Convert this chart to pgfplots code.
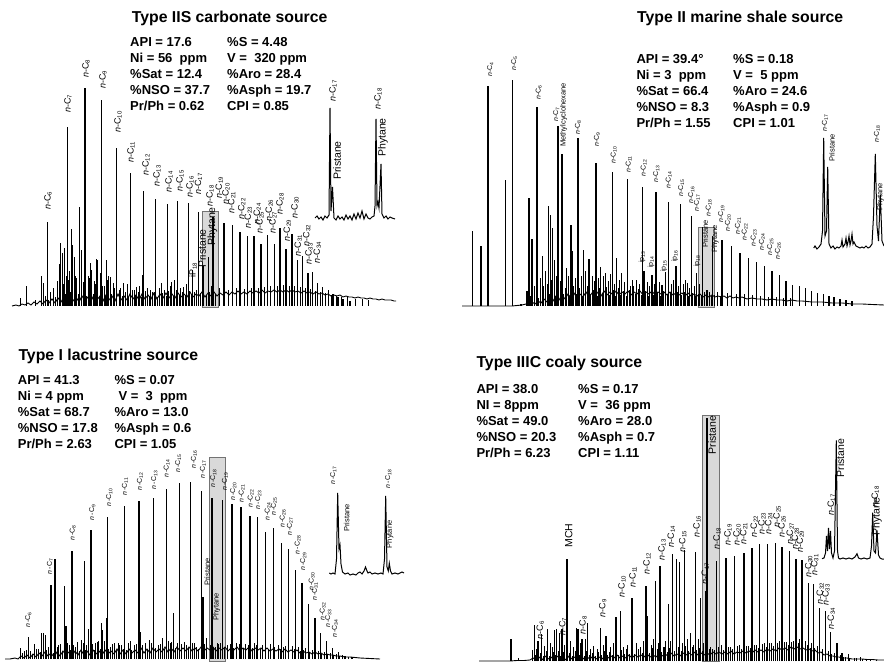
\documentclass[border=0pt]{standalone}
\usepackage{fontspec}
\setmainfont{Liberation Sans}
\usepackage{pgfplots}
\pgfplotsset{compat=1.18}
\newcommand{\nc}[1]{\textit{n}-C\textsubscript{#1}}
\newcommand{\ncc}[1]{\textit{n}\,-C\textsubscript{#1}}
\newcommand{\lbl}[4][labA]{\node[#1] at (axis cs:#2,#3) {#4};}
\tikzset{
 labbase/.style={rotate=90, anchor=west, inner sep=0pt, text=black},
 labA/.style={labbase, font=\fontsize{9}{9}\selectfont},
 labB/.style={labbase, font=\fontsize{7}{7}\selectfont},
 labC/.style={labbase, font=\fontsize{7}{7}\selectfont},
 labD/.style={labbase, font=\fontsize{9}{9}\selectfont},
 nameA/.style={labbase, font=\fontsize{10.5}{10.5}\selectfont},
 nameB/.style={labbase, font=\fontsize{7.5}{7.5}\selectfont},
 stat/.style={anchor=base west, inner sep=0pt, font=\bfseries\fontsize{13}{13}\selectfont},
 ttl/.style={anchor=base west, inner sep=0pt, font=\bfseries\fontsize{15.8}{16}\selectfont},
}
\pgfplotsset{
 chrom/.style={hide axis, x=1pt, y=1pt, clip=false, enlargelimits=false, xmin=0, xmax=442, anchor=south west},
 mainpk/.style={ycomb, black, line width=1.5pt, mark=none},
 minorpk/.style={ycomb, black, line width=0.8pt, mark=none},
 noise/.style={black, line width=0.9pt, mark=none},
 trace/.style={black, line width=1pt, mark=none},
 gbox/.style={fill=black!15, draw=black!55, line width=0.8pt, mark=none},
}
\begin{document}
\begin{tikzpicture}
\useasboundingbox (0,0) rectangle (884pt,662pt);
% ================= Panel A =================
\begin{axis}[chrom, at={(0pt,331pt)}, ymin=-25, ymax=306]
\addplot[gbox] coordinates {(202,-1) (218,-1) (218,95) (202,95)} -- cycle;
\addplot[noise] coordinates {(12,0) (16,1) (19,0) (22,2) (25,1) (28,3) (31,1) (34,4) (37,2) (40,5) (43,2) (46,6) (49,3) (52,7) (55,3) (58,8) (61,4) (64,9) (67,4) (70,10) (73,5) (76,9) (79,4) (82,10) (85,5) (88,9) (91,5) (94,11) (97,6) (100,10) (103,5) (106,11) (109,6) (112,10) (115,5) (118,12) (121,6) (124,10) (127,6) (130,12) (133,7) (136,11) (139,6) (142,12) (145,7) (148,11) (151,7) (154,13) (157,7) (160,12) (163,8) (166,13) (169,8) (172,12) (175,8) (178,13) (181,9) (184,12) (187,9) (190,14) (193,9) (196,12) (199,10) (202,14) (205,9) (208,13) (211,10) (214,14) (217,10) (220,13) (223,11) (226,14) (229,11) (232,14) (235,12) (238,15) (241,12) (244,14) (247,12) (250,15) (253,13) (256,15) (259,13) (262,16) (265,13) (268,15) (271,14) (274,16) (277,14) (280,16) (283,14) (286,16) (289,14) (292,16) (295,14) (298,15) (301,13) (304,15) (307,13) (310,14) (313,12) (316,14) (319,12) (322,13) (325,11) (328,12) (331,10) (334,11) (337,10) (340,11) (343,9) (346,10) (349,9) (352,9) (355,8) (358,9) (361,8) (364,8) (367,7) (370,8) (373,7) (376,7) (379,6) (382,7) (385,6) (388,6) (391,6) (394,5) (396,5)};
\addplot[minorpk] coordinates {(20.7,8) (26.7,20) (35,6) (41.7,30) (43.3,23) (53.3,18) (59.3,42) (60.7,63) (62.3,53) (64,58) (71,77) (72.7,61) (74.3,49) (79.3,99) (81,56) (90,43) (91.7,36) (96,47) (97.3,46) (100,33) (106.7,46) (110,29) (113.3,23) (123.3,23) (136.7,19) (142.3,31) (150,16) (161.7,23) (171.7,24) (174,26) (183.3,19) (192.7,36) (203.3,18) (57,25) (66,30) (69,35) (76,28) (84,22) (88,30) (94,25) (104,20) (108,30) (120,18) (127,22) (134,16) (139,20) (147,18) (152,14) (159,18) (164,16) (170,20) (180,18) (186,22) (196,16) (211,20) (219,18) (228,16) (236,18) (244,17) (251,18) (258,18) (264,19) (270,20) (277,20) (283,21) (289,20) (294,20) (300,19) (305,18) (310,17) (315,15) (320,14) (325,13) (331,11) (336,10) (341,9) (347,9) (355,7) (362,7) (368,6) (45,10) (48,6) (50,14) (55,9) (63,22) (65,12) (68,26) (70,14) (75,30) (78,12) (83,24) (86,10) (89,28) (93,12) (95,22) (99,9) (102,20) (105,10) (107,26) (111,12) (114,18) (116,8) (119,16) (122,10) (125,14) (128,9) (132,16) (135,10) (138,14) (141,9) (145,15) (149,10) (154,14) (157,9) (162,13) (166,10) (168,15) (173,10) (176,16) (179,11) (182,14) (185,10) (189,15) (191,11) (194,14) (198,10) (200,13) (206,11) (209,14) (215,12)};
\addplot[mainpk] coordinates {(47.7,84) (67.7,179) (85,218) (101.7,206) (116.7,158) (130.3,133) (143.7,115) (155.7,107) (167.3,102) (177.7,105) (188.3,103) (198.3,94) (203,40) (208.3,49) (213,89) (224,83) (232.3,81) (240,74) (247.3,70) (254,70) (261,62) (267.7,71) (274.3,62) (280,78) (286,57) (292,72) (297.3,46) (302.3,50) (308,33) (312.7,34) (317.7,23) (322.7,19) (328.3,16) (333,12) (338,9) (343,7) (350,5)};
\addplot[trace] coordinates {(315,88) (317,90) (319,87) (321,89) (323,86) (325,90) (327,88) (329,91) (330,198) (331,95) (332.5,119) (334,88) (336,86) (338,90) (340,87) (342,89) (344,86) (346,91) (348,87) (350,90) (352,86) (354,92) (356,87) (358,93) (360,88) (362,95) (364,87) (366,92) (368,88) (370,87) (372,89) (374,90) (375,100) (376,187) (377,100) (378,104) (379,98) (381,142) (382,92) (384,88) (386,90) (388,87) (390,89) (392,88) (395,87)};
\lbl{48}{96}{\nc{6}} \lbl{68}{193}{\nc{7}} \lbl{86}{228}{\nc{8}} \lbl{103}{217}{\nc{9}}
\lbl{118}{173}{\nc{10}} \lbl{131}{143}{\nc{11}} \lbl{146}{130}{\nc{12}} \lbl{157}{119}{\nc{13}}
\lbl{169}{113}{\nc{14}} \lbl{180}{114}{\nc{15}} \lbl{190}{108}{\nc{16}} \lbl{198.5}{111}{\nc{17}}
\lbl{210}{99}{\nc{18}} \lbl{219.3}{107.7}{\nc{19}} \lbl{226}{101}{\nc{20}} \lbl{231.7}{92.7}{\nc{21}}
\lbl{241.7}{86}{\nc{22}} \lbl{248.3}{77.7}{\nc{23}} \lbl{257.3}{81}{\nc{24}} \lbl{260}{72.7}{\nc{25}}
\lbl{269.3}{84.3}{\nc{26}} \lbl{273}{72.7}{\nc{27}} \lbl{280}{91}{\nc{28}} \lbl{287.3}{64.3}{\nc{29}}
\lbl{295}{87.7}{\nc{30}} \lbl{298.3}{49.3}{\nc{31}} \lbl{306.7}{59.3}{\nc{32}} \lbl{309}{41}{\nc{33}}
\lbl{317.3}{42.7}{\nc{34}}
\lbl[labA]{193}{28}{iP\textsubscript{18}}
\lbl[nameA]{202}{38}{Pristane} \lbl[nameA]{212.5}{60}{Phytane}
\lbl{333}{204}{\nc{17}} \lbl[nameA]{337}{126}{Pristane}
\lbl{378}{196}{\nc{18}} \lbl[nameA]{383}{149}{Phytane}
\end{axis}
% ================= Panel B =================
\begin{axis}[chrom, at={(442pt,331pt)}, ymin=-25, ymax=306]
\addplot[gbox] coordinates {(256.3,-1) (272.5,-1) (272.5,78.5) (256.3,78.5)} -- cycle;
\addplot[noise] coordinates {(20,0) (30,0) (40,0) (50,0) (60,0) (70,0) (80,1) (84,2) (87,1) (90,4) (93,2) (96,5) (99,3) (102,7) (105,4) (108,9) (111,5) (114,10) (117,6) (120,11) (123,7) (126,12) (129,8) (132,13) (135,8) (138,12) (141,9) (144,14) (147,9) (150,13) (153,10) (156,14) (159,10) (162,15) (165,11) (168,14) (171,11) (174,15) (177,11) (180,14) (183,12) (186,15) (189,11) (192,14) (195,12) (198,15) (201,11) (204,14) (207,12) (210,15) (213,11) (216,14) (219,12) (222,14) (225,11) (228,14) (231,11) (234,13) (237,11) (240,13) (243,10) (246,13) (249,10) (252,12) (255,10) (258,12) (261,9) (264,11) (267,9) (270,11) (273,9) (276,10) (279,9) (282,10) (285,8) (288,10) (291,8) (294,9) (297,8) (300,9) (305,7) (310,8) (315,7) (320,7) (325,6) (330,7) (335,6) (340,6) (345,5) (350,6) (355,5) (360,5) (370,4) (380,4) (390,3) (400,3) (410,2) (420,2) (430,1.5) (442,1)};
\addplot[minorpk] coordinates {(92,20) (98,28) (103,35) (105,22) (114,30) (118,25) (124,38) (126,30) (133,28) (139,30) (143,35) (150,30) (152,25) (156,28) (161,30) (166,25) (168,32) (172,22) (177,26) (182,24) (188,20) (190,26) (197,22) (205,24) (207,20) (212,22) (217,24) (229,22) (231,26) (236,20) (241,22) (243,26) (247,18) (252,20) (257,22) (262,14) (267,14) (275,14) (285,13) (294,12) (302,12) (310,11) (318,10) (326,9) (334,9) (341,8) (348,8) (88,10) (94,16) (96,8) (101,20) (107,12) (109,26) (113,10) (119,22) (121,12) (123,18) (127,10) (131,20) (134,12) (137,18) (140,10) (145,20) (148,12) (151,16) (155,10) (157,18) (160,12) (164,19) (167,11) (171,16) (173,10) (176,18) (178,11) (181,15) (184,10) (187,16) (193,12) (196,17) (199,11) (203,15) (206,10) (209,16) (211,11) (215,14) (218,10) (221,15) (225,11) (228,14) (233,10) (235,14) (239,11) (242,14) (246,10) (250,13) (253,10) (256,12) (259,10) (264,11) (269,10) (272,11) (278,10)};
\addplot[mainpk] coordinates {(30.7,75) (39,60) (46,220) (63.7,126) (70.7,226) (79,2) (85,15) (87,108) (90,67) (95,199) (100.3,50) (106.7,100) (108.5,91) (110.5,78) (112.3,46) (116,180) (120,152) (129,81) (130.5,55) (136,168) (141.5,56) (147,47) (154,143) (158.5,39) (163.5,33) (170.5,134) (174.5,48) (179.5,33) (185.7,127) (191.7,20) (194.7,26) (200.3,119) (202,35) (210,31) (214,114) (220,21) (223.5,34) (226.7,104) (234,40) (238.7,102) (245.3,23) (249.7,90) (254.7,33) (260.7,79) (265,16) (270.7,70) (280,66) (289.7,60) (298,53) (306.7,48) (314.7,44) (322.7,40) (330,35) (337.3,31) (344,25) (350.7,21) (357.3,20) (363.7,18) (369.7,15) (375.3,13) (381.3,12) (387,10) (392,9) (398,7) (404,6) (410,5)};
\addplot[trace] coordinates {(371.7,58) (373,60) (375,57) (377,59) (379,62) (380.5,75) (381.7,168) (383,70) (384.5,75) (385.7,139) (387,62) (389,58) (391,60) (393,57) (395,59) (397,58) (399,60) (400,66) (401,59) (403,62) (404,68) (405,60) (406,64) (407,70) (408,61) (409,65) (410,72) (411,62) (412,64) (414,60) (416,59) (418,58) (420,59) (422,58) (424,60) (426,58) (428,59) (430,62) (431.5,90) (433.3,152) (435,80) (436.5,65) (438.3,111) (440,65) (442,60)};
\lbl[labB]{48.3}{229}{\nc{4}} \lbl[labB]{72.3}{235}{\nc{5}} \lbl[labB]{96.7}{206}{\nc{6}}
\lbl[labB]{114.3}{184}{\nc{7}} \lbl[nameB]{121.7}{159}{Methylcyclohexane} \lbl[labB]{136}{171}{\nc{8}}
\lbl[labB]{155}{159}{\nc{9}} \lbl[labB]{171.7}{142}{\nc{10}} \lbl[labB]{186.7}{133}{\nc{11}}
\lbl[labB]{201.7}{129}{\nc{12}} \lbl[labB]{214.3}{123}{\nc{13}} \lbl[labB]{226.7}{117}{\nc{14}}
\lbl[labB]{239.3}{109}{\nc{15}} \lbl[labB]{249.3}{102}{\nc{16}} \lbl[labB]{255}{94}{\nc{17}}
\lbl[labB]{266.7}{89}{\nc{18}} \lbl[labB]{279.3}{83}{\nc{19}} \lbl[labB]{286}{74}{\nc{20}}
\lbl[labB]{296}{71}{\nc{21}} \lbl[labB]{302.7}{65}{\nc{22}} \lbl[labB]{311.7}{59}{\nc{23}}
\lbl[labB]{320}{55}{\nc{24}} \lbl[labB]{328.3}{50}{\nc{25}} \lbl[labB]{336}{46}{\nc{26}}
\lbl[labB]{200}{43}{ip\textsubscript{13}} \lbl[labB]{209}{38}{ip\textsubscript{14}}
\lbl[labB]{221.7}{34}{ip\textsubscript{15}} \lbl[labB]{232.7}{44}{ip\textsubscript{16}}
\lbl[labB]{255}{39}{ip\textsubscript{18}}
\lbl[nameB]{263.3}{58}{Pristane} \lbl[nameB]{273.3}{53}{Phytane}
\lbl[labB]{383}{174}{\nc{17}} \lbl[nameB]{390}{144}{Pristane}
\lbl[labB]{435}{163}{\nc{18}} \lbl[nameB]{438.5}{95}{Phytane}
\end{axis}
% ================= Panel C =================
\begin{axis}[chrom, at={(0pt,0pt)}, ymin=-3, ymax=328]
\addplot[gbox] coordinates {(209.3,-2.7) (225.7,-2.7) (225.7,201.3) (209.3,201.3)} -- cycle;
\addplot[noise] coordinates {(5,0) (10,0) (15,1) (18,0) (21,3) (24,1) (27,4) (30,1) (33,5) (36,2) (39,6) (42,3) (45,7) (48,3) (51,6) (54,2) (57,7) (60,3) (63,8) (66,4) (69,7) (72,3) (75,8) (78,4) (81,9) (84,4) (87,8) (90,4) (93,9) (96,5) (99,8) (102,4) (105,9) (108,5) (111,8) (114,5) (117,10) (120,5) (123,9) (126,5) (129,10) (132,6) (135,9) (138,6) (141,11) (144,6) (147,10) (150,6) (153,11) (156,7) (159,10) (162,7) (165,12) (168,7) (171,11) (174,7) (177,12) (180,8) (183,11) (186,8) (189,12) (192,8) (195,11) (198,8) (201,12) (204,8) (207,11) (210,9) (213,12) (216,8) (219,11) (222,9) (225,12) (228,8) (231,11) (234,9) (237,12) (240,8) (243,11) (246,9) (249,12) (252,8) (255,11) (258,9) (261,11) (264,8) (267,11) (270,8) (273,10) (276,8) (279,10) (282,7) (285,10) (288,7) (291,9) (294,7) (297,9) (300,6) (303,8) (306,6) (309,7) (312,5) (315,7) (318,5) (321,6) (324,4) (327,5) (330,4) (333,4) (336,3) (340,3) (345,2) (350,2) (355,1.5) (360,1) (370,0.5) (380,0)};
\addplot[minorpk] coordinates {(20.7,10.7) (24.3,8) (34.3,15) (41.7,25.7) (43.3,26.3) (45,24) (46.7,9) (65,33.3) (66.7,33) (77.3,17.3) (81.7,19) (88.3,29.7) (90,29) (95,15.7) (101,36.3) (102.7,29) (106,40.7) (110,12.3) (118.3,15.7) (126.7,9) (140,27.3) (149.3,19) (153.3,29) (162.7,20.7) (171.7,17.3) (173.3,46.3) (184,17.3) (196.7,12.3) (206.7,20.7) (215,12.3) (220,16.3) (30,8) (38,10) (57,12) (60,15) (69,14) (75,12) (86,14) (98,18) (114,16) (121,14) (130,18) (134,14) (145,16) (158,14) (168,18) (177,16) (186,14) (194,16) (210,14) (227,14) (236,16) (245,15) (254,16) (262,14) (270,15) (278,14) (285,13) (292,13) (298,12) (305,11) (312,9) (318,8) (324,7) (330,6) (336,5) (342,4) (22,6) (26,9) (32,5) (36,10) (40,7) (48,12) (53,6) (58,14) (62,8) (67,16) (70,9) (73,14) (79,8) (83,16) (85,9) (92,15) (94,9) (97,17) (100,10) (104,18) (108,10) (112,15) (116,9) (119,14) (123,10) (128,16) (131,9) (136,15) (138,10) (142,14) (147,10) (151,16) (155,11) (160,15) (164,10) (170,16) (175,11) (181,15) (188,11) (192,16) (198,10) (204,15) (213,12) (217,16) (224,12) (230,15) (233,11) (239,15) (243,11) (248,14) (252,11) (256,14) (260,10) (265,13) (268,10) (274,12) (280,10) (283,12) (288,9) (294,10) (300,8) (303,9) (309,7) (315,7) (321,5) (327,5) (333,4) (339,3) (344,3) (348,2)};
\addplot[mainpk] coordinates {(28.3,22) (51,74) (55,100) (64.3,73) (72,108) (84.3,98) (91,129) (107.7,142) (124.3,153) (139,157.5) (153.3,161.3) (166.7,170.3) (179.3,175.5) (190.7,177) (201.7,168) (203,62) (212,161) (218.3,14.7) (222.7,158.5) (232,155.3) (241,152) (250,143) (257.7,142) (265.7,127.3) (273.3,131.3) (281.7,116.3) (288.7,109.7) (295.3,89) (302,76.3) (308.3,54.7) (315,40.7) (320.7,26.3) (326.7,18) (332.7,11.3) (338.3,6.7) (345,3.3) (352,2.5)};
\addplot[trace] coordinates {(329.3,86) (331,85) (333,86) (335,85) (336.5,100) (337.7,166) (339,110) (340,114) (341,95) (342.5,87) (345,85) (348,86) (350,84) (353,85) (356,84) (358,86) (360,87) (362,85) (364,88) (365.5,92) (367,88) (368,86) (370,87) (372,85) (375,86) (378,85) (381,86) (383,85) (384.5,100) (385.7,163) (387,92) (388.3,88) (389.3,95.7) (390.5,88) (392,85) (395,86) (398,85) (400,86) (402,87) (404,86)};
\lbl[labC]{28.3}{31.3}{\ncc{6}} \lbl[labC]{50}{84.7}{\ncc{7}} \lbl[labC]{72.7}{118}{\ncc{8}}
\lbl[labC]{92.3}{138.7}{\ncc{9}} \lbl[labC]{109.3}{152.3}{\ncc{10}} \lbl[labC]{125}{163}{\ncc{11}}
\lbl[labC]{140}{168}{\ncc{12}} \lbl[labC]{154.3}{169.7}{\ncc{13}} \lbl[labC]{166.7}{181.3}{\ncc{14}}
\lbl[labC]{178.3}{186.3}{\ncc{15}} \lbl[labC]{194}{190}{\ncc{16}} \lbl[labC]{203}{180}{\ncc{17}}
\lbl[labC]{213.3}{171.3}{\ncc{18}} \lbl[labC]{225}{168}{\ncc{19}} \lbl[labC]{233.3}{158}{\ncc{20}}
\lbl[labC]{241.7}{156.3}{\ncc{21}} \lbl[labC]{250.7}{151.3}{\ncc{22}} \lbl[labC]{258.3}{149.7}{\ncc{23}}
\lbl[labC]{267.7}{138}{\ncc{24}} \lbl[labC]{274}{143}{\ncc{25}} \lbl[labC]{282.7}{131.3}{\ncc{26}}
\lbl[labC]{290}{123}{\ncc{27}} \lbl[labC]{297.7}{104.7}{\ncc{28}} \lbl[labC]{303.3}{88}{\ncc{29}}
\lbl[labC]{311.7}{68}{\ncc{30}} \lbl[labC]{315}{58}{\ncc{31}} \lbl[labC]{322.7}{38}{\ncc{32}}
\lbl[labC]{328.3}{31.3}{\ncc{33}} \lbl[labC]{335}{21.3}{\ncc{34}}
\lbl[nameB]{207.3}{73}{Pristane} \lbl[nameB]{216.7}{38}{Phytane}
\lbl[labC]{333.3}{174}{\ncc{17}} \lbl[nameB]{346.7}{127.3}{Pristane}
\lbl[labC]{388.3}{170.7}{\ncc{18}} \lbl[nameB]{390}{110.7}{Phytane}
\end{axis}
% ================= Panel D =================
\begin{axis}[chrom, at={(442pt,0pt)}, ymin=-1, ymax=330]
\addplot[gbox] coordinates {(260.3,-0.7) (277.3,-0.7) (277.3,245.7) (260.3,245.7)} -- cycle;
\addplot[noise] coordinates {(37,0) (50,0) (60,0) (68,0) (75,0.5) (82,0.5) (88,1) (91,3) (94,1) (97,4) (100,1) (103,5) (106,2) (109,4) (112,1) (115,5) (118,2) (121,4) (124,1) (127,5) (130,2) (133,4) (136,2) (139,5) (142,2) (145,4) (148,2) (151,5) (154,2) (157,4) (160,2) (163,5) (166,3) (169,5) (172,3) (175,6) (178,3) (181,5) (184,3) (187,6) (190,3) (193,6) (196,4) (199,6) (202,4) (205,7) (208,4) (211,6) (214,4) (217,7) (220,5) (223,7) (226,5) (229,8) (232,5) (235,7) (238,5) (241,8) (244,6) (247,8) (250,6) (253,9) (256,6) (259,8) (262,6) (265,8) (268,6) (271,9) (274,7) (277,9) (280,7) (283,9) (286,7) (289,10) (292,7) (295,9) (298,8) (301,10) (304,8) (307,10) (310,8) (313,11) (316,9) (319,11) (322,9) (325,12) (328,10) (331,12) (334,10) (337,13) (340,11) (343,13) (346,11) (349,14) (352,12) (355,14) (358,12) (361,13) (364,11) (367,12) (370,10) (373,11) (376,8) (379,9) (382,6) (385,7) (388,5) (391,5) (394,4) (397,4) (400,3) (405,3) (410,2) (415,2) (420,2) (425,1.5) (430,1.5) (436,1) (442,1)};
\addplot[minorpk] coordinates {(76,3) (94,12) (102,15) (108,18) (110,14) (119,22) (122,16) (131,14) (138,18) (143,22) (148,12) (151,15) (155,12) (161,16) (168,14) (171,18) (181,14) (185,16) (194,18) (198,14) (201,20) (209,16) (211,22) (216,18) (221,14) (228,20) (240,18) (245,22) (251,16) (256,22) (261,18) (268,14) (270,12) (279,16) (288,14) (297,16) (306,15) (314,16) (322,18) (329,18) (337,20) (344,19) (351,20) (357,22) (363,20) (369,18) (375,15) (380,12) (386,10) (392,8) (398,6) (403,4) (412,3) (418,4) (424,2) (93,6) (95,4) (98,8) (101,5) (104,10) (107,5) (111,9) (113,6) (116,10) (118,5) (121,9) (124,5) (127,8) (130,5) (133,10) (137,6) (139,9) (142,5) (144,10) (147,6) (150,8) (153,5) (156,9) (159,6) (162,10) (165,6) (167,9) (170,6) (173,10) (176,6) (179,11) (182,7) (184,12) (187,7) (189,10) (192,7) (196,12) (200,8) (203,12) (207,8) (210,13) (213,8) (215,12) (219,9) (222,14) (225,9) (227,13) (232,10) (236,14) (239,10) (243,15) (246,10) (250,14) (254,11) (257,13) (260,10) (267,12) (272,11) (276,14) (281,11) (286,14) (290,12) (295,15) (299,12) (304,15) (308,13) (312,16) (316,13) (320,17) (324,14) (327,18) (331,15) (335,18) (339,15) (342,19) (346,16) (349,19) (353,16) (356,18) (360,15) (365,16) (368,13) (372,13) (377,10) (383,9) (389,7) (395,6) (401,4) (407,3) (414,3) (420,2) (428,2) (434,1.5)};
\addplot[mainpk] coordinates {(69,21.7) (90.7,10.7) (92.3,36) (96,20) (99.3,26.7) (105.3,32.3) (112.7,30.7) (114.3,31.7) (117.3,28.3) (120,31.7) (125,102.3) (128.3,20) (134.7,33.3) (136,32.3) (140,21.7) (145.7,38.3) (158.3,33.3) (164,25) (174,44) (178.3,50) (190,63.3) (204,75) (205.7,45) (213.7,80) (218,94.7) (223.3,20) (226.7,56.7) (230.7,107.3) (234.7,101.7) (237.7,99.3) (242.3,110.7) (248.3,28.3) (253.3,109.3) (258.7,63.3) (263.3,70) (265,242.7) (274.3,100) (284,103.3) (292.7,105) (302,108.3) (310,112.7) (317.7,117.3) (325.3,116.7) (333.3,118.3) (340,114) (347.7,110) (354,102.3) (360,100.7) (366.7,78.3) (371.7,76.7) (377.7,52.7) (383.3,50) (388.3,29) (395,18.3) (400,8) (406.7,6.7)};
\addplot[trace] coordinates {(380,102.3) (382,103) (383.5,108) (384.5,125) (385.5,110) (386.5,133) (387.5,112) (388.5,130) (389.5,108) (391,103) (392.5,110) (394.3,220.7) (395.5,110) (396.5,103) (398,102) (401,103) (404,102) (407,103) (410,102) (413,104) (415,107.3) (416.5,103) (419,102) (422,103) (425,102) (428,103) (429.5,115) (430.7,148.3) (432,110) (433.5,108) (435,130.7) (436.5,106) (438,103) (440,102) (442,102)};
\lbl[nameA]{126.7}{113.3}{MCH}
\lbl[labD]{98.3}{21.7}{\nc{6}} \lbl[labD]{120.7}{25}{\nc{7}} \lbl[labD]{141}{26.7}{\nc{8}}
\lbl[labD]{160.7}{43.3}{\nc{9}} \lbl[labD]{180}{63.3}{\nc{10}} \lbl[labD]{191}{73.3}{\nc{11}}
\lbl[labD]{205}{86.7}{\nc{12}} \lbl[labD]{220}{100}{\nc{13}} \lbl[labD]{229.3}{113.3}{\nc{14}}
\lbl[labD]{240.7}{108.3}{\nc{15}} \lbl[labD]{255}{123.3}{\nc{16}} \lbl[labD]{263.3}{76.7}{\nc{17}}
\lbl[labD]{275}{111.7}{\nc{18}} \lbl[labD]{286}{115}{\nc{19}} \lbl[labD]{295}{115}{\nc{20}}
\lbl[labD]{301.7}{116.7}{\nc{21}} \lbl[labD]{312.3}{123.3}{\nc{22}} \lbl[labD]{320}{126.7}{\nc{23}}
\lbl[labD]{326.7}{126.7}{\nc{24}} \lbl[labD]{335}{133.3}{\nc{25}} \lbl[labD]{340}{123.3}{\nc{26}}
\lbl[labD]{348.3}{116.7}{\nc{27}} \lbl[labD]{353.3}{111.7}{\nc{28}} \lbl[labD]{358.3}{108.3}{\nc{29}}
\lbl[labD]{366.7}{83.3}{\nc{30}} \lbl[labD]{372.7}{85}{\nc{31}} \lbl[labD]{378.3}{56.7}{\nc{32}}
\lbl[labD]{384}{55}{\nc{33}} \lbl[labD]{389.3}{31.7}{\nc{34}}
\lbl[nameA]{270}{206.7}{Pristane}
\lbl[labD]{389.3}{145}{\nc{17}} \lbl[nameA]{398.3}{183.3}{Pristane}
\lbl[labD]{433.3}{153}{\nc{18}} \lbl[nameA]{435}{125}{Phytane}
\end{axis}
% ================= Texts =================
\node[ttl] at (131.7pt,639.2pt) {Type IIS carbonate source};
\node[stat] at (130pt,615.3pt) {API = 17.6};
\node[stat] at (227pt,615.3pt) {\%S = 4.48};
\node[stat] at (130pt,599.3pt) {Ni = 56\ \ ppm};
\node[stat] at (227pt,599.3pt) {V =\ \ 320 ppm};
\node[stat] at (130pt,583.3pt) {\%Sat = 12.4};
\node[stat] at (227pt,583.3pt) {\%Aro = 28.4};
\node[stat] at (130pt,567.3pt) {\%NSO = 37.7};
\node[stat] at (227pt,567.3pt) {\%Asph = 19.7};
\node[stat] at (130pt,551.3pt) {Pr/Ph = 0.62};
\node[stat] at (227pt,551.3pt) {CPI = 0.85};
\node[ttl] at (637pt,639.3pt) {Type II marine shale source};
\node[stat] at (636.3pt,598.7pt) {API = 39.4°};
\node[stat] at (733pt,598.7pt) {\%S = 0.18};
\node[stat] at (636.3pt,582.7pt) {Ni = 3\ \ ppm};
\node[stat] at (733pt,582.7pt) {V =\ \ 5 ppm};
\node[stat] at (636.3pt,566.7pt) {\%Sat = 66.4};
\node[stat] at (733pt,566.7pt) {\%Aro = 24.6};
\node[stat] at (636.3pt,550.7pt) {\%NSO = 8.3};
\node[stat] at (733pt,550.7pt) {\%Asph = 0.9};
\node[stat] at (636.3pt,534.7pt) {Pr/Ph = 1.55};
\node[stat] at (733pt,534.7pt) {CPI = 1.01};
\node[ttl] at (18.3pt,301.7pt) {Type I lacustrine source};
\node[stat] at (17.7pt,277.7pt) {API = 41.3};
\node[stat] at (114.3pt,277.7pt) {\%S = 0.07};
\node[stat] at (17.7pt,261.7pt) {Ni = 4 ppm};
\node[stat] at (118.3pt,261.7pt) {V =\ \ 3\ \ ppm};
\node[stat] at (17.7pt,245.7pt) {\%Sat = 68.7};
\node[stat] at (114.3pt,245.7pt) {\%Aro = 13.0};
\node[stat] at (17.7pt,229.7pt) {\%NSO = 17.8};
\node[stat] at (114.3pt,229.7pt) {\%Asph = 0.6};
\node[stat] at (17.7pt,213.7pt) {Pr/Ph = 2.63};
\node[stat] at (114.3pt,213.7pt) {CPI = 1.05};
\node[ttl] at (476.3pt,294.3pt) {Type IIIC coaly source};
\node[stat] at (476.3pt,268.3pt) {API = 38.0};
\node[stat] at (578pt,268.3pt) {\%S = 0.17};
\node[stat] at (476.3pt,252.3pt) {NI = 8ppm};
\node[stat] at (578pt,252.3pt) {V =\ \ 36 ppm};
\node[stat] at (476.3pt,236.3pt) {\%Sat = 49.0};
\node[stat] at (578pt,236.3pt) {\%Aro = 28.0};
\node[stat] at (476.3pt,220.3pt) {\%NSO = 20.3};
\node[stat] at (578pt,220.3pt) {\%Asph = 0.7};
\node[stat] at (476.3pt,204.3pt) {Pr/Ph = 6.23};
\node[stat] at (578pt,204.3pt) {CPI = 1.11};
\end{tikzpicture}
\end{document}
